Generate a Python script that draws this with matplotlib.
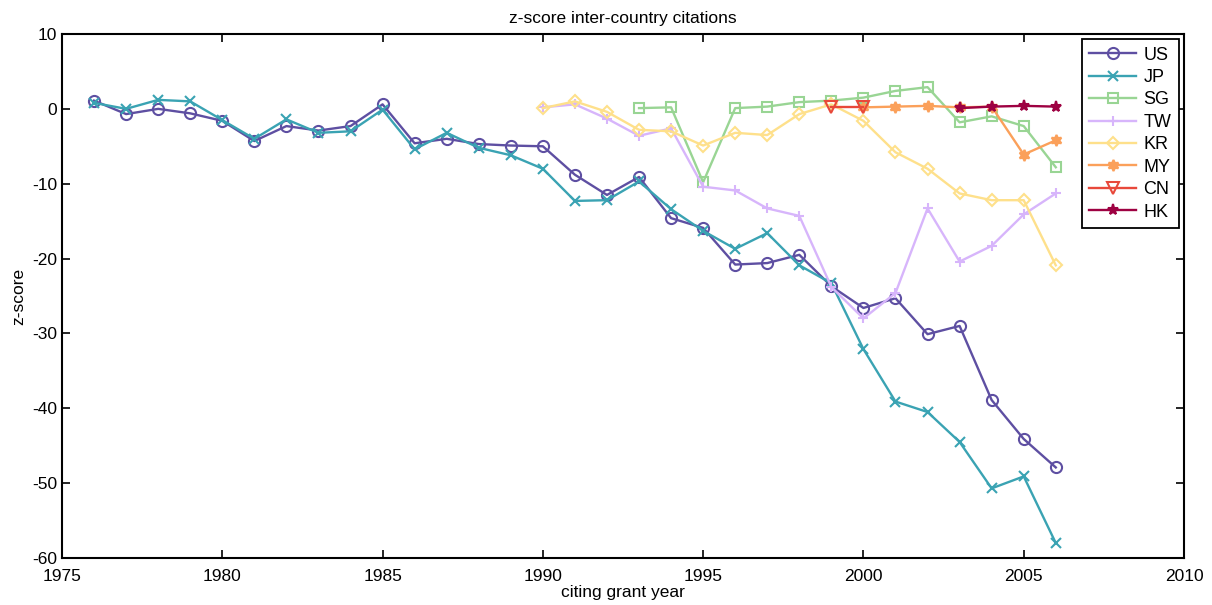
import matplotlib
matplotlib.use("Agg")
from matplotlib import pyplot as plt

plt.rcParams['font.family'] = ['Liberation Sans', 'DejaVu Sans']
plt.rcParams['axes.unicode_minus'] = False

# z-score per citing grant year
us_years = list(range(1976, 2007))
us = [1.1, -0.7, 0.0, -0.6, -1.6, -4.3, -2.3, -2.9, -2.3, 0.6,
      -4.6, -4.0, -4.7, -4.9, -5.0, -8.8, -11.5, -9.1, -14.6, -15.9,
      -20.8, -20.6, -19.5, -23.7, -26.6, -25.3, -30.1, -29.0, -38.9, -44.1,
      -47.9]
jp_years = list(range(1976, 2007))
jp = [0.8, 0.0, 1.2, 1.0, -1.5, -4.0, -1.4, -3.2, -3.0, -0.1,
      -5.4, -3.2, -5.2, -6.2, -8.0, -12.3, -12.2, -9.7, -13.4, -16.3,
      -18.7, -16.6, -20.9, -23.3, -32.1, -39.1, -40.5, -44.5, -50.7, -49.1,
      -58.0]
sg_years = list(range(1993, 2007))
sg = [0.1, 0.2, -9.8, 0.1, 0.3, 0.9, 1.1, 1.5, 2.4, 2.9, -1.8, -1.0, -2.3, -7.8]
tw_years = list(range(1990, 2007))
tw = [0.2, 0.6, -1.3, -3.6, -2.6, -10.4, -10.9, -13.3, -14.3, -23.8,
      -28.0, -24.6, -13.3, -20.4, -18.3, -14.1, -11.3]
kr_years = list(range(1990, 2007))
kr = [0.1, 1.0, -0.4, -2.8, -3.0, -4.9, -3.2, -3.5, -0.7, 0.6,
      -1.6, -5.8, -8.0, -11.3, -12.2, -12.2, -20.9]
my_years = list(range(2000, 2007))
my = [0.2, 0.3, 0.4, 0.2, 0.3, -6.1, -4.2]
cn_years = [1999, 2000]
cn = [0.2, 0.2]
hk_years = list(range(2003, 2007))
hk = [0.1, 0.3, 0.4, 0.3]

series = [
    ('US', us_years, us, '#5e4fa2', 'o', 'none'),
    ('JP', jp_years, jp, '#3aa3b3', 'x', 'none'),
    ('SG', sg_years, sg, '#99d594', 's', 'none'),
    ('TW', tw_years, tw, '#d7b5fb', '+', 'none'),
    ('KR', kr_years, kr, '#fee08b', 'D', 'none'),
    ('MY', my_years, my, '#fba05a', (6, 1, 0), 'full'),
    ('CN', cn_years, cn, '#e8483a', 'v', 'none'),
    ('HK', hk_years, hk, '#9e0142', '*', 'full'),
]

fig = plt.figure(figsize=(12.12, 6.05), dpi=100)
ax = fig.add_axes([62 / 1212, 1 - 558 / 605, (1184 - 62) / 1212, (558 - 34) / 605])

for name, xs, ys, col, mk, fill in series:
    ms = 8
    if mk == 'D':
        ms = 6
    elif mk == 's':
        ms = 6.5
    elif mk == 'x' or mk == '+':
        ms = 7
    ax.plot(xs, ys, color=col, marker=mk, ms=ms, lw=1.7, mew=1.5,
            fillstyle=fill, markerfacecolor=(col if fill == 'full' else 'none'),
            label=name)

ax.set_xlim(1975, 2010)
ax.set_ylim(-60, 10)
ax.set_xticks(range(1975, 2011, 5))
ax.set_yticks(range(-60, 11, 10))
ax.tick_params(direction='in', top=True, right=True, length=6, width=1.2,
               labelsize=12.5)
ax.tick_params(axis='x', pad=8)
for s in ax.spines.values():
    s.set_linewidth(1.5)

ax.set_title('z-score inter-country citations', fontsize=12.5, pad=8)
ax.set_xlabel('citing grant year', fontsize=12.5, labelpad=1)
ax.set_ylabel('z-score', fontsize=12.5, labelpad=4)

leg = ax.legend(loc='upper right', fontsize=13, fancybox=False, framealpha=1,
                edgecolor='black', handlelength=2.6, borderaxespad=0.3,
                labelspacing=0.3, handletextpad=0.4, borderpad=0.4)
leg.get_frame().set_linewidth(1.3)

fig.savefig('out.png', dpi=100)
